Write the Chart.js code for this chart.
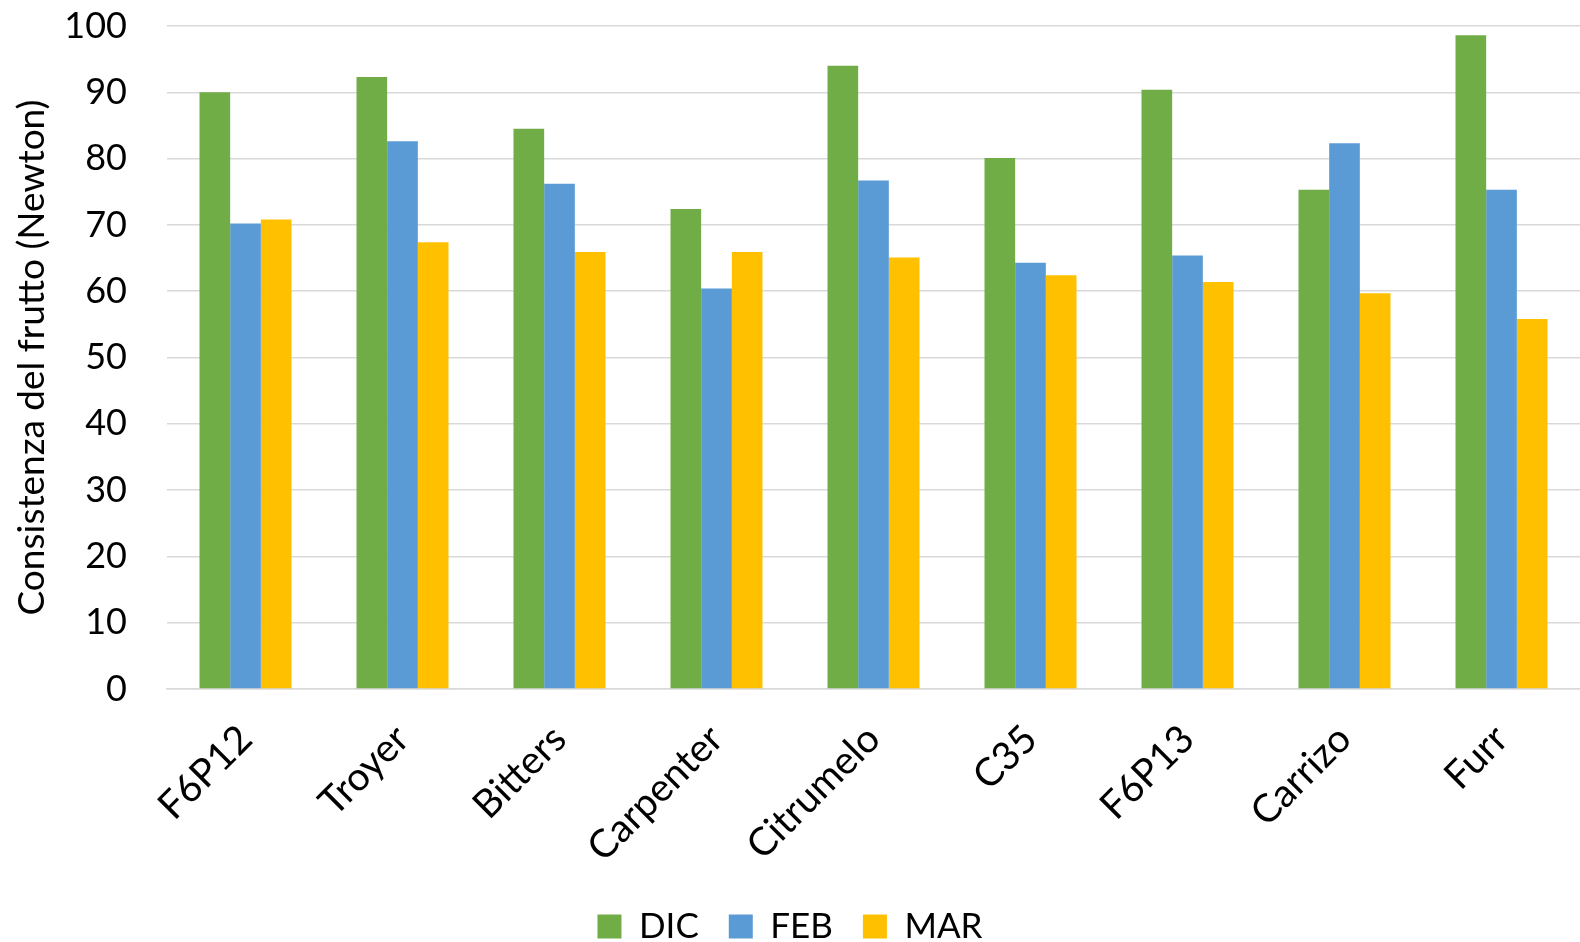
<!DOCTYPE html>
<html>
<head>
<meta charset="utf-8">
<script src="https://cdn.jsdelivr.net/npm/chart.js@4.4.1/dist/chart.umd.min.js"></script>
<style>
  html, body { margin: 0; padding: 0; background: #fff; }
  #wrap { width: 1580px; height: 942px; position: relative; }
</style>
</head>
<body>
<div id="wrap"><canvas id="c"></canvas></div>
<script>
// Portinnesti (rootstocks) on the category axis
const categories = ['F6P12', 'Troyer', 'Bitters', 'Carpenter', 'Citrumelo', 'C35', 'F6P13', 'Carrizo', 'Furr'];

// Fruit firmness per sampling month (Newton)
const dicValues = [90.0, 92.3, 84.5, 72.4, 94.0, 80.1, 90.4, 75.3, 98.6];
const febValues = [70.2, 82.6, 76.2, 60.4, 76.7, 64.3, 65.4, 82.3, 75.3];
const marValues = [70.8, 67.4, 65.9, 65.9, 65.1, 62.4, 61.4, 59.7, 55.8];

const seriesNames = ['DIC', 'FEB', 'MAR'];
const yTicks = [0, 10, 20, 30, 40, 50, 60, 70, 80, 90, 100];
const yTitle = 'Consistenza del frutto (Newton)';

const FONT = 'Lato, "Open Sans", sans-serif';

new Chart(document.getElementById('c'), {
  type: 'bar',
  data: {
    labels: categories,
    datasets: [
      { label: seriesNames[0], data: dicValues, backgroundColor: '#70AD47' },
      { label: seriesNames[1], data: febValues, backgroundColor: '#5B9BD5' },
      { label: seriesNames[2], data: marValues, backgroundColor: '#FFC000' }
    ]
  },
  options: {
    responsive: true,
    maintainAspectRatio: false,
    animation: false,
    layout: { padding: { top: 26, right: 0, left: 0, bottom: -12 } },
    datasets: {
      bar: { categoryPercentage: 0.586, barPercentage: 1.0, borderWidth: 0 }
    },
    plugins: {
      tooltip: { enabled: false },
      legend: {
        position: 'bottom',
        labels: {
          boxWidth: 24,
          boxHeight: 24,
          padding: 30,
          color: '#000',
          font: { family: FONT, size: 35 }
        }
      }
    },
    scales: {
      x: {
        afterFit: (axis) => {
          axis.height = 190;
          axis.paddingLeft = 0;
          axis.paddingRight = 0;
        },
        grid: { display: false, drawTicks: false },
        border: { display: true, color: '#D9D9D9', width: 1.5 },
        ticks: {
          color: '#000',
          font: { family: FONT, size: 39 },
          minRotation: 45,
          maxRotation: 45,
          padding: 27,
          autoSkip: false
        }
      },
      y: {
        min: 0,
        max: 100,
        afterBuildTicks: (axis) => { axis.ticks = yTicks.map(v => ({ value: v })); },
        afterFit: (axis) => {
          axis.width = 167;
          axis.paddingTop = 0;
          axis.paddingBottom = 0;
        },
        grid: { color: '#D9D9D9', lineWidth: 1.5, drawTicks: false },
        border: { display: false },
        ticks: {
          color: '#000',
          font: { family: FONT, size: 36 },
          padding: 40
        },
        title: {
          display: true,
          text: yTitle,
          color: '#000',
          font: { family: FONT, size: 37 },
          padding: { top: 10, bottom: 0 }
        }
      }
    }
  }
});
</script>
</body>
</html>
